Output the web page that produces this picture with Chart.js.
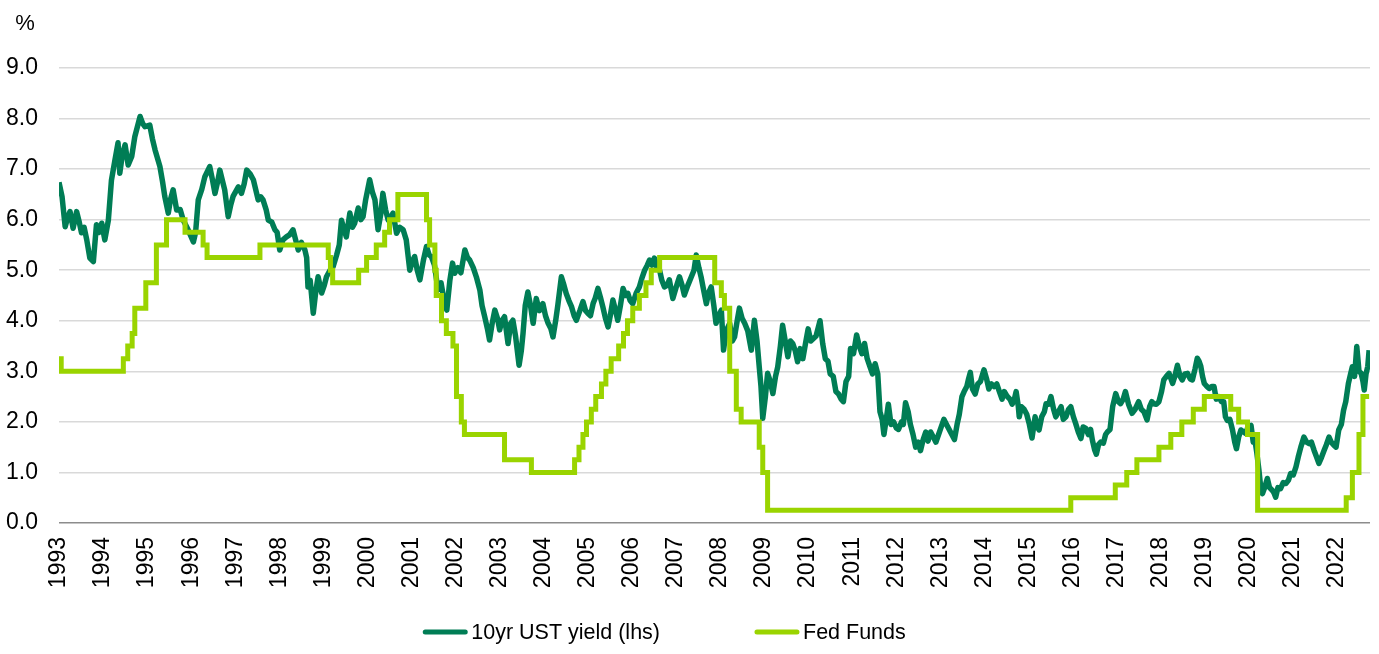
<!DOCTYPE html>
<html>
<head>
<meta charset="utf-8">
<script src="https://cdn.jsdelivr.net/npm/chart.js@4.4.1/dist/chart.umd.min.js"></script>
<style>
	html, body { margin: 0; padding: 0; background: #fff; }
	#wrap { width: 1379px; height: 654px; position: relative; }
</style>
</head>
<body>
<div id="wrap"><canvas id="chart"></canvas></div>
<script>
// 10yr UST yield vs Fed Funds, 1993 - Sep 2022

const xStart = 1993
const xEnd   = 2022.75

const seriesNames = ['10yr UST yield (lhs)', 'Fed Funds']

// [decimal year, %]
const ust1990s = [
	[1993.00, 6.74], [1993.07, 6.45], [1993.14, 5.86], [1993.20, 6.05], [1993.25, 6.16], [1993.32, 5.83],
	[1993.40, 6.16], [1993.46, 5.95], [1993.51, 5.74], [1993.57, 5.85], [1993.63, 5.60], [1993.70, 5.24],
	[1993.78, 5.17], [1993.85, 5.90], [1993.91, 5.75], [1993.97, 5.93], [1994.04, 5.60], [1994.12, 5.99],
	[1994.19, 6.78], [1994.27, 7.18], [1994.34, 7.52], [1994.38, 6.92], [1994.44, 7.30], [1994.50, 7.48],
	[1994.57, 7.08], [1994.65, 7.25], [1994.72, 7.64], [1994.84, 8.04], [1994.90, 7.90], [1994.95, 7.84],
	[1995.06, 7.87], [1995.12, 7.60], [1995.18, 7.38], [1995.29, 7.05], [1995.35, 6.75], [1995.40, 6.46],
	[1995.48, 6.13], [1995.53, 6.40], [1995.59, 6.59], [1995.67, 6.19], [1995.75, 6.20], [1995.82, 5.99],
	[1995.93, 5.80], [1996.05, 5.56], [1996.10, 5.75], [1996.16, 6.39], [1996.24, 6.60], [1996.31, 6.85],
	[1996.42, 7.05], [1996.48, 6.80], [1996.54, 6.52], [1996.60, 6.75], [1996.65, 6.98], [1996.76, 6.59],
	[1996.84, 6.06], [1996.90, 6.30], [1996.95, 6.46], [1997.07, 6.65], [1997.14, 6.52], [1997.20, 6.70],
	[1997.26, 6.98], [1997.34, 6.90], [1997.41, 6.79], [1997.52, 6.39], [1997.58, 6.45], [1997.63, 6.39],
	[1997.70, 6.20], [1997.75, 5.99], [1997.83, 5.95], [1997.90, 5.80], [1997.95, 5.75], [1998.01, 5.40],
	[1998.08, 5.60], [1998.16, 5.66], [1998.23, 5.70], [1998.31, 5.80], [1998.37, 5.60], [1998.43, 5.40],
	[1998.50, 5.55], [1998.58, 5.40], [1998.62, 5.25], [1998.65, 4.67], [1998.70, 4.80], [1998.77, 4.15],
	[1998.83, 4.60], [1998.88, 4.87], [1998.96, 4.55], [1999.02, 4.70], [1999.07, 4.87], [1999.15, 5.00],
	[1999.22, 5.07], [1999.30, 5.30], [1999.36, 5.50], [1999.41, 5.99], [1999.47, 5.80], [1999.52, 5.66],
	[1999.60, 6.13], [1999.66, 5.85], [1999.71, 5.93], [1999.79, 6.23], [1999.85, 6.00], [1999.90, 6.06],
	[1999.96, 6.40],
]
const ust2000s = [
	[2000.05, 6.79], [2000.11, 6.55], [2000.17, 6.39], [2000.24, 5.80], [2000.30, 6.10], [2000.35, 6.52],
	[2000.41, 6.20], [2000.47, 5.99], [2000.53, 6.05], [2000.58, 6.13], [2000.66, 5.73], [2000.73, 5.85],
	[2000.81, 5.80], [2000.88, 5.60], [2000.96, 5.00], [2001.03, 5.20], [2001.07, 5.27], [2001.13, 5.00],
	[2001.19, 4.81], [2001.27, 5.20], [2001.34, 5.47], [2001.40, 5.30], [2001.45, 5.27], [2001.52, 5.10],
	[2001.60, 4.61], [2001.67, 4.75], [2001.72, 4.50], [2001.80, 4.21], [2001.87, 4.80], [2001.93, 5.14],
	[2001.98, 4.94], [2002.05, 5.05], [2002.12, 4.95], [2002.21, 5.40], [2002.27, 5.25], [2002.32, 5.20],
	[2002.40, 5.05], [2002.47, 4.87], [2002.55, 4.61], [2002.60, 4.30], [2002.66, 4.08], [2002.72, 3.85],
	[2002.77, 3.62], [2002.83, 3.95], [2002.89, 4.21], [2002.95, 4.05], [2003.00, 3.82], [2003.05, 4.00],
	[2003.11, 4.08], [2003.19, 3.55], [2003.25, 3.95], [2003.30, 4.01], [2003.36, 3.70], [2003.44, 3.12],
	[2003.49, 3.40], [2003.53, 3.75], [2003.58, 4.30], [2003.64, 4.57], [2003.70, 4.30], [2003.76, 3.95],
	[2003.83, 4.44], [2003.90, 4.20], [2003.98, 4.34], [2004.04, 4.10], [2004.10, 3.95], [2004.16, 3.85],
	[2004.21, 3.68], [2004.27, 4.00], [2004.32, 4.31], [2004.40, 4.87], [2004.46, 4.70], [2004.51, 4.54],
	[2004.57, 4.40], [2004.63, 4.28], [2004.69, 4.10], [2004.74, 4.01], [2004.82, 4.20], [2004.89, 4.38],
	[2004.95, 4.20], [2005.00, 4.15], [2005.06, 4.10], [2005.12, 4.34], [2005.17, 4.45], [2005.23, 4.64],
	[2005.29, 4.45], [2005.34, 4.28], [2005.40, 4.05], [2005.46, 3.88], [2005.51, 4.10], [2005.57, 4.41],
	[2005.63, 4.20], [2005.68, 4.01], [2005.74, 4.30], [2005.80, 4.64], [2005.86, 4.50], [2005.91, 4.54],
	[2005.96, 4.40], [2006.02, 4.34], [2006.10, 4.55], [2006.17, 4.67], [2006.23, 4.85], [2006.29, 5.00],
	[2006.35, 5.10], [2006.40, 5.20], [2006.46, 5.10], [2006.51, 5.24], [2006.57, 5.05], [2006.63, 5.00],
	[2006.68, 4.80], [2006.74, 4.67], [2006.80, 4.70], [2006.85, 4.81], [2006.93, 4.44], [2007.00, 4.65],
	[2007.08, 4.87], [2007.14, 4.70], [2007.19, 4.51], [2007.27, 4.70], [2007.35, 4.87], [2007.41, 5.00],
	[2007.46, 5.30], [2007.52, 5.05], [2007.57, 4.87], [2007.63, 4.60], [2007.69, 4.34], [2007.74, 4.55],
	[2007.80, 4.67], [2007.86, 4.30], [2007.91, 3.95], [2007.97, 4.10], [2008.03, 4.21], [2008.08, 3.42],
	[2008.14, 3.80], [2008.22, 3.95], [2008.28, 3.60], [2008.33, 3.68], [2008.39, 4.00], [2008.44, 4.25],
	[2008.50, 4.05], [2008.56, 3.95], [2008.63, 3.80], [2008.71, 3.42], [2008.78, 4.01], [2008.84, 3.60],
	[2008.89, 3.09], [2008.93, 2.70], [2008.97, 2.07], [2009.03, 2.50], [2009.08, 2.96], [2009.14, 2.80],
	[2009.20, 2.56], [2009.26, 2.90], [2009.31, 3.09], [2009.37, 3.50], [2009.42, 3.91], [2009.48, 3.60],
	[2009.54, 3.29], [2009.60, 3.60], [2009.65, 3.55], [2009.71, 3.40], [2009.76, 3.19], [2009.82, 3.45],
	[2009.88, 3.25], [2009.94, 3.55],
]
const ust2010s = [
	[2010.00, 3.84], [2010.06, 3.60], [2010.12, 3.65], [2010.18, 3.70], [2010.27, 4.00], [2010.33, 3.55],
	[2010.39, 3.25], [2010.45, 3.20], [2010.50, 2.95], [2010.57, 2.90], [2010.63, 2.60], [2010.69, 2.55],
	[2010.75, 2.45], [2010.80, 2.40], [2010.86, 2.80], [2010.92, 2.90], [2010.96, 3.45], [2011.03, 3.35],
	[2011.10, 3.72], [2011.16, 3.50], [2011.22, 3.35], [2011.28, 3.55], [2011.34, 3.25], [2011.40, 3.10],
	[2011.46, 2.95], [2011.52, 3.15], [2011.58, 2.95], [2011.63, 2.20], [2011.68, 2.05], [2011.72, 1.75],
	[2011.78, 2.10], [2011.82, 2.35], [2011.88, 1.95], [2011.94, 2.00], [2012.00, 1.88], [2012.05, 1.85],
	[2012.12, 2.00], [2012.16, 1.95], [2012.21, 2.38], [2012.27, 2.20], [2012.32, 1.95], [2012.38, 1.75],
	[2012.44, 1.50], [2012.50, 1.60], [2012.55, 1.43], [2012.61, 1.65], [2012.67, 1.80], [2012.72, 1.62],
	[2012.78, 1.80], [2012.84, 1.70], [2012.90, 1.60], [2012.96, 1.75], [2013.02, 1.90], [2013.08, 2.05],
	[2013.14, 1.95], [2013.20, 1.85], [2013.26, 1.75], [2013.32, 1.65], [2013.38, 1.95], [2013.43, 2.15],
	[2013.49, 2.50], [2013.54, 2.60], [2013.60, 2.70], [2013.64, 2.85], [2013.68, 2.98], [2013.73, 2.65],
	[2013.79, 2.55], [2013.85, 2.75], [2013.91, 2.80], [2013.99, 3.03], [2014.05, 2.85], [2014.10, 2.65],
	[2014.16, 2.75], [2014.22, 2.70], [2014.28, 2.75], [2014.34, 2.60], [2014.40, 2.45], [2014.45, 2.60],
	[2014.52, 2.50], [2014.58, 2.45], [2014.63, 2.35], [2014.68, 2.45], [2014.72, 2.60], [2014.77, 2.30],
	[2014.79, 2.10], [2014.84, 2.30], [2014.90, 2.25], [2014.96, 2.15], [2015.02, 1.95], [2015.08, 1.68],
	[2015.15, 2.10], [2015.20, 1.90], [2015.24, 1.84], [2015.30, 2.10], [2015.36, 2.20], [2015.40, 2.36],
	[2015.46, 2.35], [2015.51, 2.50], [2015.57, 2.25], [2015.62, 2.10], [2015.68, 2.20], [2015.74, 2.30],
	[2015.79, 2.05], [2015.85, 2.10], [2015.91, 2.25], [2015.96, 2.30], [2016.02, 2.10], [2016.07, 1.97],
	[2016.13, 1.80], [2016.19, 1.67], [2016.24, 1.90], [2016.30, 1.87], [2016.36, 1.75], [2016.41, 1.85],
	[2016.45, 1.64], [2016.50, 1.45], [2016.54, 1.36], [2016.59, 1.55], [2016.64, 1.60], [2016.70, 1.58],
	[2016.75, 1.75], [2016.79, 1.80], [2016.85, 1.85], [2016.91, 2.30], [2016.98, 2.56], [2017.04, 2.40],
	[2017.09, 2.36], [2017.15, 2.45], [2017.20, 2.60], [2017.27, 2.35], [2017.35, 2.17], [2017.42, 2.25],
	[2017.50, 2.40], [2017.56, 2.25], [2017.62, 2.20], [2017.69, 2.04], [2017.75, 2.30], [2017.80, 2.40],
	[2017.84, 2.36], [2017.90, 2.35], [2017.96, 2.40], [2018.02, 2.60], [2018.07, 2.83], [2018.13, 2.90],
	[2018.19, 2.96], [2018.27, 2.76], [2018.32, 2.90], [2018.38, 3.12], [2018.44, 2.90], [2018.49, 2.83],
	[2018.55, 2.95], [2018.61, 2.96], [2018.67, 2.85], [2018.72, 2.83], [2018.78, 3.05], [2018.83, 3.26],
	[2018.87, 3.20], [2018.91, 3.10], [2018.95, 2.90], [2018.99, 2.76], [2019.05, 2.70], [2019.10, 2.66],
	[2019.16, 2.70], [2019.21, 2.70], [2019.26, 2.45], [2019.32, 2.50], [2019.38, 2.40], [2019.43, 2.40],
	[2019.47, 2.10], [2019.51, 2.03], [2019.57, 2.05], [2019.63, 1.84], [2019.68, 1.60], [2019.72, 1.47],
	[2019.77, 1.70], [2019.82, 1.84], [2019.88, 1.80], [2019.93, 1.77], [2019.98, 1.90],
]
const ust2020s = [
	[2020.05, 1.93], [2020.10, 1.60], [2020.14, 1.63], [2020.18, 1.40], [2020.23, 1.04], [2020.27, 0.70],
	[2020.31, 0.58], [2020.36, 0.70], [2020.42, 0.88], [2020.47, 0.70], [2020.53, 0.65], [2020.57, 0.60],
	[2020.61, 0.51], [2020.66, 0.70], [2020.72, 0.68], [2020.78, 0.80], [2020.84, 0.78], [2020.90, 0.85],
	[2020.95, 0.98], [2021.01, 0.95], [2021.07, 1.11], [2021.12, 1.30], [2021.18, 1.50], [2021.25, 1.70],
	[2021.31, 1.60], [2021.37, 1.57], [2021.42, 1.60], [2021.48, 1.44], [2021.54, 1.30], [2021.59, 1.18],
	[2021.65, 1.30], [2021.71, 1.44], [2021.76, 1.55], [2021.82, 1.70], [2021.87, 1.60], [2021.93, 1.54],
	[2021.98, 1.50], [2022.04, 1.84], [2022.10, 1.95], [2022.15, 2.23], [2022.20, 2.40], [2022.26, 2.76],
	[2022.31, 2.95], [2022.35, 3.09], [2022.40, 2.90], [2022.45, 3.49], [2022.50, 3.00], [2022.55, 2.96],
	[2022.59, 2.80], [2022.62, 2.63], [2022.66, 2.95], [2022.70, 3.10], [2022.73, 3.42],
]

// [decimal year the level starts, %]
const fedFundsSteps = [
	[1993.00, 3.25], [1993.05, 3.00], [1994.46, 3.25], [1994.56, 3.50], [1994.66, 3.75], [1994.72, 4.25],
	[1994.97, 4.75], [1995.21, 5.50], [1995.44, 6.00], [1995.86, 5.75], [1996.27, 5.50], [1996.36, 5.25],
	[1997.56, 5.50], [1999.11, 5.25], [1999.16, 5.00], [1999.21, 4.75], [1999.80, 5.00], [1999.98, 5.25],
	[2000.20, 5.50], [2000.39, 5.75], [2000.50, 6.00], [2000.69, 6.50], [2001.34, 6.00], [2001.41, 5.50],
	[2001.53, 5.00], [2001.56, 4.50], [2001.68, 4.00], [2001.79, 3.75], [2001.94, 3.50], [2002.02, 2.50],
	[2002.13, 2.00], [2002.20, 1.75], [2003.11, 1.25], [2003.72, 1.00], [2004.70, 1.25], [2004.80, 1.50],
	[2004.89, 1.75], [2004.97, 2.00], [2005.08, 2.25], [2005.18, 2.50], [2005.31, 2.75], [2005.41, 3.00],
	[2005.53, 3.25], [2005.70, 3.50], [2005.81, 3.75], [2005.90, 4.00], [2006.02, 4.25], [2006.17, 4.50],
	[2006.32, 4.75], [2006.44, 5.00], [2006.63, 5.25], [2007.88, 4.75], [2008.03, 4.50], [2008.10, 4.25],
	[2008.22, 3.00], [2008.37, 2.25], [2008.48, 2.00], [2008.89, 1.50], [2008.97, 1.00], [2009.08, 0.25],
	[2015.96, 0.50], [2016.97, 0.75], [2017.23, 1.00], [2017.46, 1.25], [2017.96, 1.50], [2018.23, 1.75],
	[2018.48, 2.00], [2018.74, 2.25], [2018.99, 2.50], [2019.59, 2.25], [2019.77, 2.00], [2019.97, 1.75],
	[2020.20, 0.25], [2022.21, 0.50], [2022.35, 1.00], [2022.50, 1.75], [2022.59, 2.50], [2022.73, 2.50],
]

const FONT_FAMILY = '"Liberation Sans", Arial, sans-serif'
const TICK_SIZE   = 23
const LEGEND_SIZE = 21.5
const UST_COLOR   = '#007D55'
const FF_COLOR    = '#9AD400'

const toPoints = (pairs) => pairs.map(([x, y]) => ({ x : x, y : y }))

// "%" unit label and a custom legend laid out like the original
const extrasPlugin = {
	id : 'extras',
	afterDraw : (chart) => {
		const { ctx, chartArea } = chart
		ctx.save()
		ctx.fillStyle    = '#000'
		ctx.textBaseline = 'middle'
		ctx.textAlign    = 'center'
		ctx.font         = `${TICK_SIZE - 1}px ${FONT_FAMILY}`
		ctx.fillText('%', chartArea.left - 34, chartArea.top - 44)

		ctx.font = `${LEGEND_SIZE}px ${FONT_FAMILY}`
		const sample  = 44
		const gap     = 4
		const between = 95
		const items   = chart.data.datasets.map((ds) => ({ ds : ds, w : ctx.measureText(ds.label).width }))
		const total   = items.reduce((s, it) => s + sample + gap + it.w, 0) + between * (items.length - 1)
		let   x       = chart.width / 2 - 25 - total / 2
		const y       = chart.height - 22

		for ( const it of items ) {
			ctx.strokeStyle = it.ds.borderColor
			ctx.lineWidth   = 5
			ctx.lineCap     = 'round'
			ctx.beginPath()
			ctx.moveTo(x + 2, y)
			ctx.lineTo(x + sample - 2, y)
			ctx.stroke()
			ctx.textAlign = 'left'
			ctx.fillText(it.ds.label, x + sample + gap, y + 1)
			x += sample + gap + it.w + between
		}
		ctx.restore()
	},
}

new Chart(document.getElementById('chart'), {
	type : 'line',
	data : {
		datasets : [
			{
				label           : seriesNames[0],
				data            : toPoints([...ust1990s, ...ust2000s, ...ust2010s, ...ust2020s]),
				borderColor     : UST_COLOR,
				backgroundColor : UST_COLOR,
				borderWidth     : 5.5,
				borderJoinStyle : 'round',
				pointRadius     : 0,
				tension         : 0,
				order           : 2,
			},
			{
				label           : seriesNames[1],
				data            : toPoints(fedFundsSteps),
				borderColor     : FF_COLOR,
				backgroundColor : FF_COLOR,
				borderWidth     : 5,
				stepped         : true,
				pointRadius     : 0,
				order           : 1,
			},
		],
	},
	options : {
		responsive          : true,
		maintainAspectRatio : false,
		animation           : false,
		layout  : { padding : { left : 0, right : 9, top : 68, bottom : 67 } },
		plugins : {
			legend  : { display : false },
			tooltip : { enabled : false },
		},
		scales : {
			x : {
				type   : 'linear',
				min    : xStart,
				max    : xEnd,
				grid   : { display : false, drawTicks : false },
				border : { display : false },
				ticks  : {
					stepSize    : 1,
					autoSkip    : false,
					minRotation : 90,
					maxRotation : 90,
					padding     : 14,
					color       : '#000',
					font        : { family : FONT_FAMILY, size : TICK_SIZE },
					callback    : (v) => String(v),
				},
				afterBuildTicks : (axis) => { axis.ticks = axis.ticks.filter((t) => Number.isInteger(t.value)) },
				afterFit        : (axis) => { axis.height = 64 },
			},
			y : {
				min    : 0,
				max    : 9,
				grid   : {
					color     : (c) => c.tick.value === 0 ? '#8C8C8C' : '#D9D9D9',
					lineWidth : 1.5,
					drawTicks : false,
				},
				border : { display : false },
				ticks  : {
					stepSize : 1,
					padding  : 21,
					color    : '#000',
					font     : { family : FONT_FAMILY, size : TICK_SIZE },
					callback : (v) => v.toFixed(1),
				},
				afterFit : (axis) => { axis.width = 59 },
			},
		},
	},
	plugins : [extrasPlugin],
})
</script>
</body>
</html>
